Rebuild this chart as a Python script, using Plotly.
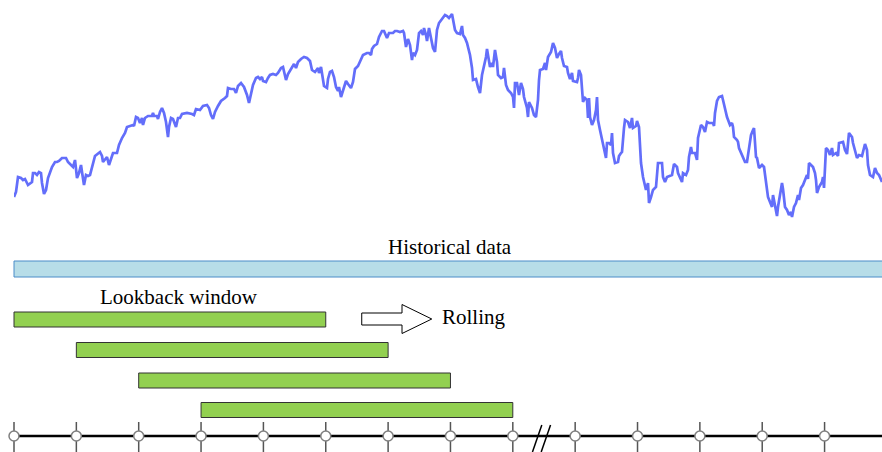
import plotly.graph_objects as go

# price path (trading day, index level)
days = [0, 2, 4, 7, 9, 11, 13, 14, 18, 19, 21, 23, 25, 27, 28, 29, 30, 32, 34, 38,
        41, 43, 45, 48, 52, 54, 58, 59, 61, 62, 63, 65, 67, 68, 70, 72, 74, 76, 79, 81,
        86, 88, 89, 91, 93, 95, 98, 99, 103, 105, 108, 111, 113, 116, 119, 120, 122, 124, 126, 128,
        129, 131, 134, 138, 139, 140, 143, 144, 146, 148, 150, 152, 154, 155, 157, 159, 162, 164, 166, 168,
        173, 178, 180, 182, 186, 189, 193, 195, 197, 199, 201, 204, 207, 211, 213, 214, 217, 220, 222, 224,
        227, 230, 233, 235, 237, 239, 242, 244, 246, 248, 249, 252, 254, 256, 259, 262, 264, 267, 269, 272,
        274, 278, 280, 282, 284, 287, 290, 293, 296, 298, 301, 304, 305, 307, 308, 310, 313, 314, 316, 318,
        320, 322, 324, 325, 327, 329, 332, 334, 337, 339, 341, 344, 347, 349, 353, 355, 357, 358, 360, 363,
        365, 368, 370, 372, 373, 375, 379, 381, 383, 386, 389, 390, 392, 394, 396, 398, 399, 401, 403, 405,
        407, 409, 410, 412, 413, 415, 417, 419, 421, 423, 425, 429, 431, 433, 435, 438, 439, 441, 443, 446,
        448, 449, 451, 453, 456, 458, 459, 462, 464, 466, 468, 470, 472, 473, 475, 476, 478, 479, 481, 483,
        484, 487, 489, 490, 492, 494, 497, 499, 500, 501, 503, 505, 507, 509, 510, 513, 514, 515, 518, 520,
        522, 524, 525, 526, 529, 531, 532, 534, 537, 539, 541, 543, 545, 547, 548, 550, 553, 554, 556, 558,
        559, 563, 564, 565, 567, 568, 569, 571, 573, 574, 575, 576, 578, 580, 582, 583, 584, 586, 588, 590,
        592, 593, 595, 597, 598, 599, 601, 604, 605, 607, 608, 610, 611, 614, 616, 618, 619, 622, 623, 625,
        627, 629, 632, 634, 635, 637, 639, 642, 644, 646, 648, 649, 651, 653, 655, 658, 660, 663, 664, 666,
        668, 669, 672, 674, 675, 677, 678, 681, 683, 684, 687, 689, 691, 693, 695, 699, 700, 701, 703, 705,
        708, 709, 711, 713, 716, 718, 719, 720, 723, 724, 725, 727, 729, 731, 733, 735, 737, 739, 740, 742,
        743, 745, 748, 750, 752, 754, 756, 758, 759, 761, 763, 764, 766, 768, 769, 771, 773, 775, 777, 778,
        780, 782, 784, 785, 787, 789, 791, 793, 794, 795, 797, 799, 801, 802, 803, 805, 808, 809, 810, 812,
        814, 816, 818, 819, 822, 824, 825, 829, 831, 833, 835, 838, 839, 841, 843, 845, 848, 849, 851, 853,
        854, 856, 858, 859, 861, 863, 865, 868]
prices = [53, 58, 73, 72, 70, 71, 67, 65, 68, 77, 77, 75, 78, 77, 67, 60, 56, 60, 72, 83,
          88, 88, 89, 92, 92, 88, 84, 83, 90, 82, 72, 77, 85, 78, 65, 75, 74, 75, 88, 94,
          98, 94, 88, 90, 93, 85, 96, 97, 97, 105, 112, 117, 123, 124, 125, 124, 133, 132, 127, 132,
          125, 132, 134, 134, 137, 134, 134, 131, 138, 142, 137, 128, 113, 123, 132, 131, 123, 132, 132, 136,
          137, 136, 135, 141, 140, 144, 145, 142, 135, 131, 138, 144, 149, 152, 154, 162, 161, 161, 157, 164,
          167, 163, 155, 147, 158, 165, 172, 173, 171, 173, 169, 168, 172, 175, 176, 175, 177, 182, 183, 170,
          176, 182, 186, 182, 188, 191, 193, 192, 189, 180, 178, 182, 177, 183, 175, 164, 162, 171, 178, 179,
          173, 163, 159, 163, 153, 160, 169, 166, 162, 168, 181, 184, 191, 195, 197, 197, 195, 201, 204, 206,
          213, 219, 219, 215, 212, 217, 217, 219, 219, 218, 219, 217, 203, 211, 205, 190, 197, 195, 200, 217,
          219, 215, 222, 215, 209, 222, 212, 202, 198, 220, 227, 233, 235, 234, 232, 236, 230, 220, 217, 216,
          224, 215, 212, 207, 195, 182, 170, 171, 163, 157, 175, 183, 193, 201, 185, 183, 187, 183, 200, 188,
          175, 172, 173, 182, 165, 160, 157, 153, 142, 167, 167, 155, 167, 161, 153, 142, 133, 148, 142, 135,
          133, 150, 170, 180, 181, 187, 180, 193, 198, 207, 202, 192, 196, 199, 192, 184, 183, 177, 171, 177,
          169, 168, 172, 180, 175, 158, 148, 152, 150, 132, 152, 133, 125, 130, 140, 153, 130, 120, 110, 102,
          92, 107, 107, 105, 117, 97, 87, 88, 94, 97, 98, 122, 130, 128, 122, 132, 122, 124, 129, 123,
          87, 73, 60, 67, 47, 53, 60, 63, 87, 87, 87, 73, 68, 73, 74, 75, 86, 83, 77, 73,
          68, 77, 75, 80, 93, 103, 97, 97, 90, 112, 125, 123, 118, 128, 127, 127, 124, 137, 149, 153,
          154, 150, 142, 133, 125, 127, 123, 113, 110, 108, 102, 97, 91, 88, 88, 103, 115, 120, 122, 93,
          92, 82, 85, 83, 70, 53, 48, 43, 55, 43, 34, 43, 55, 67, 61, 43, 40, 35, 38, 33,
          43, 47, 55, 50, 62, 65, 70, 75, 71, 87, 85, 83, 77, 70, 57, 63, 68, 73, 62, 102,
          100, 95, 102, 95, 97, 94, 107, 108, 100, 96, 117, 113, 107, 98, 92, 95, 94, 98, 106, 100,
          85, 75, 73, 73, 82, 77, 75, 68]

# timeline (periods) and rolling lookback windows
tick_periods = [0, 1, 2, 3, 4, 5, 6, 7, 8, 9, 10, 11, 12, 13]
window_start = [0, 1, 2, 3]
window_end = [5, 6, 7, 8]
history_start = 0
history_end = 14

SERIF = "Liberation Serif, Times New Roman, serif"
ROW_Y = [319.5, 350, 380.5, 410]
AXIS_Y = 436
BREAK_AT = 8.47

fig = go.Figure()

# price line on its own axes at the top
fig.add_trace(go.Scatter(x=days, y=prices, mode="lines", xaxis="x2", yaxis="y2",
                         line=dict(color="#636efa", width=2.7), hoverinfo="skip"))

# historical data bar
fig.add_trace(go.Bar(y=[269], x=[history_end - history_start], base=[history_start],
                     orientation="h", width=16,
                     marker=dict(color="#b7dde8", line=dict(color="#4a8cc8", width=1))))

# lookback windows
fig.add_trace(go.Bar(y=ROW_Y, x=[e - s for s, e in zip(window_start, window_end)],
                     base=window_start, orientation="h", width=15,
                     marker=dict(color="#92d050", line=dict(color="#333333", width=1))))

# time axis
fig.add_trace(go.Scatter(x=[tick_periods[0], 14], y=[AXIS_Y, AXIS_Y], mode="lines",
                         line=dict(color="black", width=2.5), hoverinfo="skip"))
tx, ty = [], []
for p in tick_periods:
    tx += [p, p, None]
    ty += [422, 452, None]
fig.add_trace(go.Scatter(x=tx, y=ty, mode="lines", line=dict(color="#555555", width=1.5),
                         hoverinfo="skip"))
fig.add_trace(go.Scatter(x=tick_periods, y=[AXIS_Y] * len(tick_periods), mode="markers",
                         marker=dict(size=10, color="white", line=dict(color="#808080", width=1.5)),
                         hoverinfo="skip"))
# axis break //
for off in (-0.08, 0.06):
    fig.add_trace(go.Scatter(x=[BREAK_AT + off - 0.075, BREAK_AT + off + 0.075], y=[452, 425],
                             mode="lines", line=dict(color="black", width=1.5), hoverinfo="skip"))

# rolling arrow
fig.add_shape(type="path", xref="x", yref="y",
              path="M 5.577 313 L 6.223 313 L 6.223 304.5 L 6.70 319 L 6.223 333.5 L 6.223 325 L 5.577 325 Z",
              fillcolor="white", line=dict(color="black", width=1))

fig.add_annotation(x=7.0, y=247, text="Historical data", showarrow=False,
                   font=dict(family=SERIF, size=21, color="black"))
fig.add_annotation(x=2.65, y=297, text="Lookback window", showarrow=False,
                   font=dict(family=SERIF, size=21, color="black"))
fig.add_annotation(x=6.83, y=317, text="Rolling", showarrow=False, xanchor="left",
                   font=dict(family=SERIF, size=21, color="black"))

fig.update_layout(
    width=882, height=452, margin=dict(l=0, r=0, t=0, b=0),
    paper_bgcolor="white", plot_bgcolor="rgba(0,0,0,0)", showlegend=False,
    xaxis=dict(range=[-0.2245, 13.921], visible=False, domain=[0, 1]),
    yaxis=dict(range=[452, 0], visible=False, domain=[0, 1]),
    xaxis2=dict(range=[0, 868], visible=False, domain=[14 / 882, 1], anchor="y2"),
    yaxis2=dict(range=[20, 250], visible=False, domain=[1 - 230 / 452, 1], anchor="x2"),
)

fig.write_html("out.html", config={"displayModeBar": False},
               post_script="document.body.style.margin='0';")
